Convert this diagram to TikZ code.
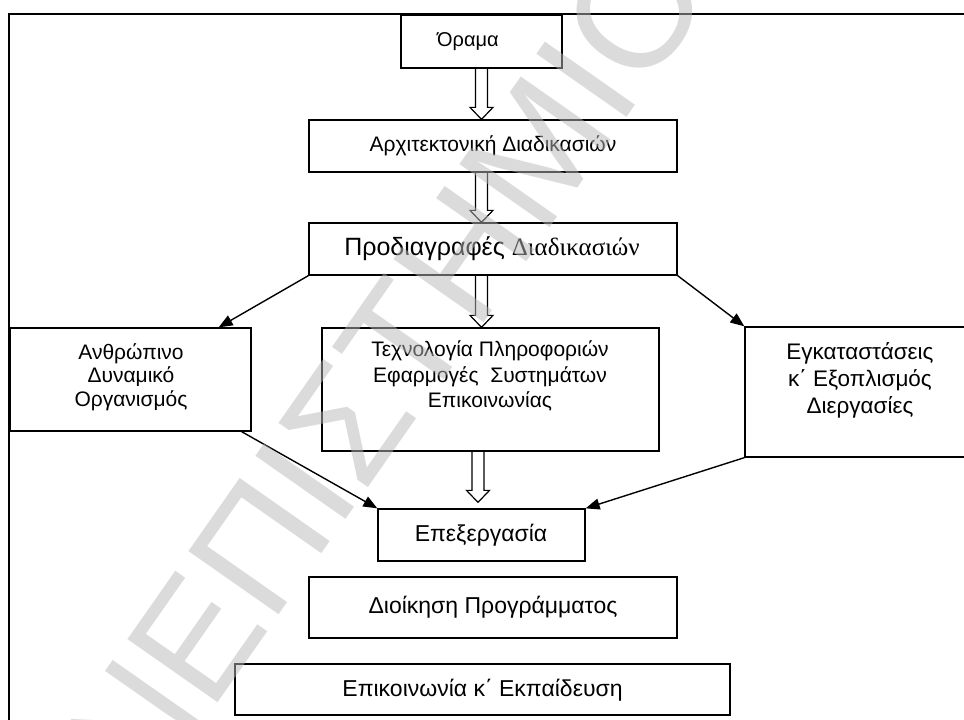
\documentclass[tikz,border=0pt]{standalone}
\usepackage{fontspec}
\setmainfont{Liberation Sans}
\newfontfamily\timesgr{Liberation Serif}
\usetikzlibrary{arrows.meta,calc}
\definecolor{wmgray}{gray}{0.72}
\tikzset{
  box/.style={draw=black, line width=1.3pt, inner sep=0pt},
  txt/.style={align=center, inner sep=0pt},
  link/.style={draw=black, line width=1.4pt, -{Triangle[length=14pt,width=11pt]}},
  hollow/.style={draw=black, line width=1.2pt, line join=miter},
  fs/.style={font=\fontsize{#1}{#1}\selectfont}
}
% open block arrow from a start point down to a tip point
\newcommand\hollowarrow[2]{%
  \draw[hollow] ($(#1)+(-6,0)$) -- ($(#2)+(-6,-12)$) -- ($(#2)+(-11.5,-12)$)
    -- (#2) -- ($(#2)+(11.5,-12)$) -- ($(#2)+(6,-12)$) -- ($(#1)+(6,0)$);}
\begin{document}
\begin{tikzpicture}[x=1pt,y=-1pt]
\useasboundingbox (0,0) rectangle (964,720);
\clip (0,0) rectangle (964,720);

% outer frame
\draw[line width=1.3pt] (1000,14) -- (9,14) -- (9,760);

% boxes
\node[box, minimum width=161pt, minimum height=53pt] (orama) at (481.5,41.5) {};
\node[box, minimum width=368pt, minimum height=52pt] (arch)  at (493,146) {};
\node[box, minimum width=368pt, minimum height=52pt] (spec)  at (493,249) {};
\node[box, minimum width=241pt, minimum height=103pt] (human) at (130.5,379.5) {};
\node[box, minimum width=337pt, minimum height=123pt] (tech)  at (490.5,389.5) {};
\node[box, minimum width=230pt, minimum height=130pt] (facil) at (860,392) {};
\node[box, minimum width=207pt, minimum height=52pt] (proc)  at (481.5,535) {};
\node[box, minimum width=368pt, minimum height=61pt] (mgmt)  at (493,607.5) {};
\node[box, minimum width=495pt, minimum height=51pt] (comm)  at (482.5,689.5) {};

% texts
\node[txt, fs=20] (toram) at (468,42) {Όραμα};
\node[txt, fs=21] (tarch) at (493,146) {Αρχιτεκτονική Διαδικασιών};
\node[txt, fs=25] (tspec) at (492,249) {Προδιαγραφές {\timesgr Διαδικασιών}};
\node[txt, font=\fontsize{21}{23.5}\selectfont] (thum) at (131,377) {Ανθρώπινο\\Δυναμικό\\Οργανισμός};
\node[txt, font=\fontsize{21}{25.5}\selectfont] (ttech) at (490,376) {Τεχνολογία Πληροφοριών\\Εφαρμογές~ Συστημάτων\\Επικοινωνίας};
\node[txt, font=\fontsize{22.5}{27}\selectfont] (tfac) at (860,380) {Εγκαταστάσεις\\κ΄ Εξοπλισμός\\Διεργασίες};
\node[txt, fs=23] (tproc) at (481,535) {Επεξεργασία};
\node[txt, fs=23] (tmgmt) at (493,607) {Διοίκηση Προγράμματος};
\node[txt, fs=23] (tcomm) at (482.5,690) {Επικοινωνία κ΄ Εκπαίδευση};

% open block arrows down the middle column
\coordinate (a1s) at (orama.south);
\coordinate (a1t) at (arch.north -| orama.south);
\coordinate (a2s) at (arch.south -| orama.south);
\coordinate (a2t) at (spec.north -| orama.south);
\coordinate (a3s) at (spec.south -| orama.south);
\coordinate (a3t) at (tech.north -| orama.south);
\coordinate (a4s) at ($(tech.south -| orama.south)+(-3.5,0)$);
\coordinate (a4t) at ($(proc.north -| orama.south)+(-3.5,-6)$);
\hollowarrow{a1s}{a1t}
\hollowarrow{a2s}{a2t}
\hollowarrow{a3s}{a3t}
\hollowarrow{a4s}{a4t}

% thin arrows
\draw[link] (spec.south west) -- ($(human.north east)+(-33,0)$);
\draw[link] (spec.south east) -- (facil.north west);
\draw[link] ($(human.south east)+(-10,0)$) -- (proc.north west);
\draw[link] (facil.south west) -- (proc.north east);

% watermark
\node[anchor=base west, rotate=55, inner sep=0pt, text=wmgray, opacity=0.5,
      font=\fontsize{160}{160}\selectfont] (wm) at (16.5,990) {ΠΑΝΕΠΙΣΤΗΜΙΟ ΠΕΙΡΑΙΩΣ};
\end{tikzpicture}
\end{document}
